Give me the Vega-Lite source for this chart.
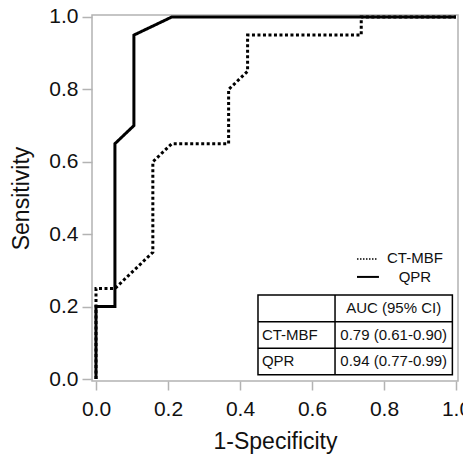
{
  "$schema": "https://vega.github.io/schema/vega-lite/v6.json",
  "width": 366,
  "height": 366,
  "autosize": {"type": "none"},
  "padding": {"left": 92, "top": 15, "right": 5, "bottom": 73},
  "background": "white",
  "config": {
    "view": {"stroke": "#b3b3b3", "strokeWidth": 1.5},
    "font": "Liberation Sans",
    "axis": {
      "domain": false,
      "grid": false,
      "tickColor": "#b3b3b3",
      "tickWidth": 1.5,
      "labelFont": "Liberation Sans",
      "labelFontSize": 21,
      "labelColor": "#111111",
      "labelFlush": false,
      "titleFont": "Liberation Sans",
      "titleFontSize": 23,
      "titleFontWeight": "normal",
      "titleColor": "#111111"
    }
  },
  "datasets": {
    "roc": [
      {"series": "CT-MBF", "i": 0, "fpr": 0, "tpr": 0},
      {"series": "CT-MBF", "i": 1, "fpr": 0, "tpr": 0.25},
      {"series": "CT-MBF", "i": 2, "fpr": 0.0526, "tpr": 0.25},
      {"series": "CT-MBF", "i": 3, "fpr": 0.1579, "tpr": 0.35},
      {"series": "CT-MBF", "i": 4, "fpr": 0.1579, "tpr": 0.6},
      {"series": "CT-MBF", "i": 5, "fpr": 0.2105, "tpr": 0.65},
      {"series": "CT-MBF", "i": 6, "fpr": 0.3684, "tpr": 0.65},
      {"series": "CT-MBF", "i": 7, "fpr": 0.3684, "tpr": 0.8},
      {"series": "CT-MBF", "i": 8, "fpr": 0.4211, "tpr": 0.85},
      {"series": "CT-MBF", "i": 9, "fpr": 0.4211, "tpr": 0.95},
      {"series": "CT-MBF", "i": 10, "fpr": 0.7368, "tpr": 0.95},
      {"series": "CT-MBF", "i": 11, "fpr": 0.7368, "tpr": 1.0},
      {"series": "CT-MBF", "i": 12, "fpr": 1.0, "tpr": 1.0},
      {"series": "QPR", "i": 0, "fpr": 0, "tpr": 0},
      {"series": "QPR", "i": 1, "fpr": 0, "tpr": 0.2},
      {"series": "QPR", "i": 2, "fpr": 0.0526, "tpr": 0.2},
      {"series": "QPR", "i": 3, "fpr": 0.0526, "tpr": 0.65},
      {"series": "QPR", "i": 4, "fpr": 0.1053, "tpr": 0.7},
      {"series": "QPR", "i": 5, "fpr": 0.1053, "tpr": 0.95},
      {"series": "QPR", "i": 6, "fpr": 0.2105, "tpr": 1.0},
      {"series": "QPR", "i": 7, "fpr": 1.0, "tpr": 1.0}
    ],
    "auc": [
      {"method": "CT-MBF", "auc": "0.79 (0.61-0.90)"},
      {"method": "QPR", "auc": "0.94 (0.77-0.99)"}
    ],
    "one": [{"header": "AUC (95% CI)"}]
  },
  "layer": [
    {
      "data": {"name": "roc"},
      "mark": {"type": "line", "color": "black", "strokeWidth": 3, "strokeCap": "butt", "strokeJoin": "miter"},
      "encoding": {
        "x": {
          "field": "fpr", "type": "quantitative",
          "scale": {"domain": [-0.0111, 1.0056], "nice": false, "zero": false},
          "axis": {"values": [0, 0.2, 0.4, 0.6, 0.8, 1.0], "format": ".1f", "tickSize": 9, "labelPadding": 8, "title": "1-Specificity", "titleBaseline": "alphabetic", "titleY": 67}
        },
        "y": {
          "field": "tpr", "type": "quantitative",
          "scale": {"domain": [-0.0055, 1.0055], "nice": false, "zero": false},
          "axis": {"values": [0, 0.2, 0.4, 0.6, 0.8, 1.0], "format": ".1f", "tickSize": 10, "labelPadding": 4, "title": "Sensitivity", "titleBaseline": "alphabetic", "titleX": -64}
        },
        "strokeDash": {
          "field": "series", "type": "nominal",
          "scale": {"domain": ["CT-MBF", "QPR"], "range": [[3, 2.5], [1, 0]]},
          "legend": null
        },
        "order": {"field": "i", "type": "quantitative"}
      }
    },
    {
      "data": {"name": "one"},
      "mark": {"type": "rule", "color": "black", "strokeWidth": 1.5, "strokeDash": [1.5, 1.5]},
      "encoding": {
        "x": {"datum": 0.725, "type": "quantitative"},
        "x2": {"datum": 0.783},
        "y": {"datum": 0.3315, "type": "quantitative"}
      }
    },
    {
      "data": {"name": "one"},
      "mark": {"type": "rule", "color": "black", "strokeWidth": 2},
      "encoding": {
        "x": {"datum": 0.725, "type": "quantitative"},
        "x2": {"datum": 0.786},
        "y": {"datum": 0.282, "type": "quantitative"}
      }
    },
    {
      "data": {"name": "auc"},
      "transform": [{"filter": "datum.method === 'CT-MBF'"}],
      "mark": {"type": "text", "font": "Liberation Sans", "fontSize": 15, "color": "#111111", "align": "center", "baseline": "middle"},
      "encoding": {
        "x": {"datum": 0.886, "type": "quantitative"},
        "y": {"datum": 0.333, "type": "quantitative"},
        "text": {"field": "method"}
      }
    },
    {
      "data": {"name": "auc"},
      "transform": [{"filter": "datum.method === 'QPR'"}],
      "mark": {"type": "text", "font": "Liberation Sans", "fontSize": 15, "color": "#111111", "align": "center", "baseline": "middle"},
      "encoding": {
        "x": {"datum": 0.886, "type": "quantitative"},
        "y": {"datum": 0.282, "type": "quantitative"},
        "text": {"field": "method"}
      }
    },
    {
      "data": {"name": "one"},
      "mark": {"type": "rect", "fill": "white", "stroke": "black", "strokeWidth": 1.5},
      "encoding": {
        "x": {"datum": 0.45, "type": "quantitative"},
        "x2": {"datum": 0.99},
        "y": {"datum": 0.012, "type": "quantitative"},
        "y2": {"datum": 0.232}
      }
    },
    {
      "data": {"name": "one"},
      "mark": {"type": "rule", "color": "black", "strokeWidth": 1.5},
      "encoding": {
        "x": {"datum": 0.45, "type": "quantitative"},
        "x2": {"datum": 0.99},
        "y": {"datum": 0.158, "type": "quantitative"}
      }
    },
    {
      "data": {"name": "one"},
      "mark": {"type": "rule", "color": "black", "strokeWidth": 1.5},
      "encoding": {
        "x": {"datum": 0.45, "type": "quantitative"},
        "x2": {"datum": 0.99},
        "y": {"datum": 0.085, "type": "quantitative"}
      }
    },
    {
      "data": {"name": "one"},
      "mark": {"type": "rule", "color": "black", "strokeWidth": 1.5},
      "encoding": {
        "x": {"datum": 0.664, "type": "quantitative"},
        "y": {"datum": 0.012, "type": "quantitative"},
        "y2": {"datum": 0.232}
      }
    },
    {
      "data": {"name": "one"},
      "mark": {"type": "text", "font": "Liberation Sans", "fontSize": 15, "color": "#111111", "align": "center", "baseline": "middle"},
      "encoding": {
        "x": {"datum": 0.827, "type": "quantitative"},
        "y": {"datum": 0.195, "type": "quantitative"},
        "text": {"field": "header"}
      }
    },
    {
      "data": {"name": "auc"},
      "transform": [{"filter": "datum.method === 'CT-MBF'"}],
      "mark": {"type": "text", "font": "Liberation Sans", "fontSize": 15, "color": "#111111", "align": "left", "baseline": "middle"},
      "encoding": {
        "x": {"datum": 0.461, "type": "quantitative"},
        "y": {"datum": 0.1215, "type": "quantitative"},
        "text": {"field": "method"}
      }
    },
    {
      "data": {"name": "auc"},
      "transform": [{"filter": "datum.method === 'CT-MBF'"}],
      "mark": {"type": "text", "font": "Liberation Sans", "fontSize": 15, "color": "#111111", "align": "center", "baseline": "middle"},
      "encoding": {
        "x": {"datum": 0.827, "type": "quantitative"},
        "y": {"datum": 0.1215, "type": "quantitative"},
        "text": {"field": "auc"}
      }
    },
    {
      "data": {"name": "auc"},
      "transform": [{"filter": "datum.method === 'QPR'"}],
      "mark": {"type": "text", "font": "Liberation Sans", "fontSize": 15, "color": "#111111", "align": "left", "baseline": "middle"},
      "encoding": {
        "x": {"datum": 0.461, "type": "quantitative"},
        "y": {"datum": 0.0485, "type": "quantitative"},
        "text": {"field": "method"}
      }
    },
    {
      "data": {"name": "auc"},
      "transform": [{"filter": "datum.method === 'QPR'"}],
      "mark": {"type": "text", "font": "Liberation Sans", "fontSize": 15, "color": "#111111", "align": "center", "baseline": "middle"},
      "encoding": {
        "x": {"datum": 0.827, "type": "quantitative"},
        "y": {"datum": 0.0485, "type": "quantitative"},
        "text": {"field": "auc"}
      }
    }
  ]
}
